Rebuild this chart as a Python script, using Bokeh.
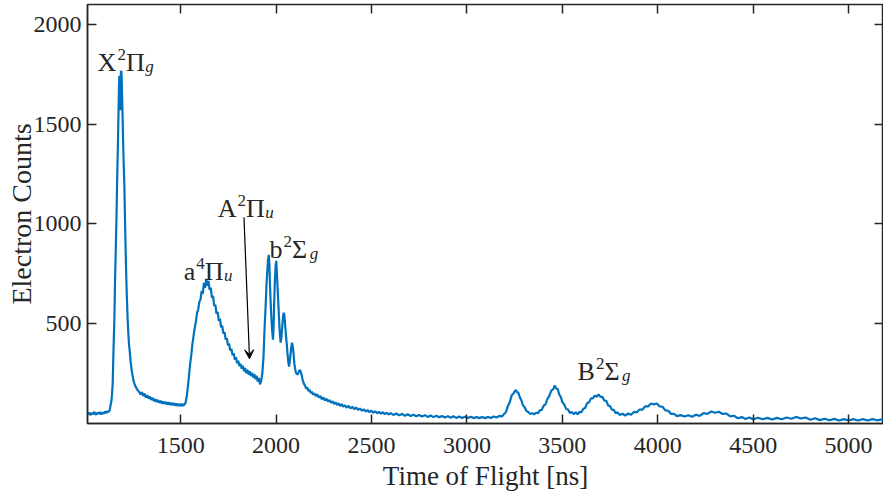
from bokeh.plotting import figure
from bokeh.models import (Range1d, FixedTicker, LinearAxis, Label, Arrow, VeeHead,
                          CustomJSTickFormatter)
from bokeh.embed import file_html
from bokeh.resources import INLINE

# ---------------- data ----------------
tof_ns = [
    1013, 1020, 1027, 1034, 1041, 1048, 1055, 1062, 1069, 1076, 1083, 1090, 1097, 1104, 1111, 1118, 1124, 1129,
    1133, 1137, 1140, 1144, 1148, 1153, 1156, 1160, 1164, 1167, 1171, 1174, 1177, 1179, 1181, 1183, 1185, 1187,
    1189, 1191, 1193, 1196, 1199, 1202, 1205, 1208, 1212, 1215, 1218, 1222, 1226, 1230, 1233, 1238, 1243, 1248,
    1253, 1258, 1264, 1270, 1276, 1283,
    1290, 1297, 1304, 1311, 1318, 1325, 1332, 1339, 1346, 1353, 1360, 1367, 1374, 1381, 1388, 1395, 1402, 1409,
    1416, 1423, 1430, 1437, 1444, 1451, 1458, 1465, 1472, 1479, 1486, 1493, 1500, 1507, 1514, 1520,
    1526, 1532, 1538, 1544, 1550, 1556, 1562, 1568, 1574, 1580, 1586, 1592, 1598, 1604, 1610, 1616, 1622, 1628,
    1634, 1640, 1646, 1652, 1658, 1664, 1670, 1676, 1682, 1688, 1694, 1700, 1706, 1712, 1718, 1724, 1730, 1736,
    1742, 1748, 1754, 1760, 1766, 1772, 1778, 1784, 1790, 1796, 1802, 1808, 1814, 1820, 1826, 1832, 1838, 1844,
    1850, 1856, 1862, 1868, 1874, 1880, 1886, 1892, 1898, 1904, 1910, 1916, 1922,
    1928, 1934, 1940, 1946, 1950, 1954, 1958, 1962, 1965, 1968, 1972, 1976, 1980, 1984, 1987, 1990, 1994, 1998,
    2001, 2004, 2008, 2012, 2016, 2020, 2024, 2028, 2032, 2036, 2040, 2044, 2048, 2052, 2056, 2060, 2064, 2068,
    2072, 2076, 2080, 2084, 2088, 2092, 2096, 2100, 2104, 2108, 2112, 2116, 2120, 2125, 2130, 2135, 2140, 2146,
    2152, 2158, 2164, 2170, 2176, 2182, 2188, 2194, 2200,
    2208, 2216, 2224, 2232, 2240, 2248, 2256, 2264, 2272, 2280, 2288, 2296, 2304, 2312, 2320, 2328, 2336, 2344,
    2352, 2360, 2370, 2380, 2390, 2400, 2410, 2420, 2430, 2440, 2450, 2460, 2470, 2480, 2490, 2500, 2510, 2520,
    2530, 2540, 2550, 2560, 2570, 2580, 2590, 2600, 2615, 2630, 2645, 2660, 2675, 2690, 2705, 2720, 2735, 2750,
    2765, 2780, 2795, 2810, 2825, 2840, 2855, 2870, 2885, 2900, 2915, 2930, 2945, 2960, 2975, 2990, 3005, 3020,
    3035, 3050, 3065, 3080, 3095, 3110, 3125, 3140, 3155, 3170, 3185,
    3195, 3205, 3215, 3225, 3235, 3245, 3255, 3262, 3270, 3278, 3286, 3294, 3302, 3312, 3322, 3332, 3342, 3352,
    3362, 3372, 3382, 3392, 3402, 3412, 3422, 3432, 3442, 3452, 3460, 3468, 3476, 3484, 3492, 3500, 3510, 3520,
    3530, 3540, 3550, 3560, 3570, 3580, 3590, 3600, 3610, 3620, 3630, 3640, 3650, 3660, 3670, 3680, 3690, 3700,
    3710, 3720, 3730, 3740, 3750, 3760, 3770, 3780, 3790, 3800, 3815, 3830, 3845, 3860, 3875, 3890, 3905, 3920,
    3935, 3950, 3965, 3980, 3995, 4010, 4025, 4040, 4055, 4070, 4085, 4100, 4120, 4140, 4160, 4180, 4200, 4220,
    4240, 4260, 4280, 4300, 4320, 4340, 4360, 4380, 4400, 4420, 4440, 4460, 4480, 4500, 4525, 4550, 4575, 4600,
    4625, 4650, 4675, 4700, 4725, 4750, 4775, 4800, 4825, 4850, 4875, 4900, 4925, 4950, 4975, 5000, 5025, 5050,
    5075, 5100, 5125, 5150, 5175, 5190,
]

electron_counts = [
    45, 55, 42, 52, 47, 58, 44, 53, 49, 57, 46, 55, 50, 60, 52, 62, 58, 70,
    92, 110, 140, 200, 360, 530, 700, 865, 1040, 1200, 1380, 1532, 1690, 1743, 1660, 1570, 1640, 1755,
    1768, 1740, 1650, 1532, 1400, 1290, 1200, 1050, 865, 740, 640, 530, 450, 390, 365, 310, 270, 240,
    215, 200, 185, 175, 165, 158,
    146, 158, 138, 150, 130, 142, 125, 135, 118, 128, 112, 122, 108, 118, 104, 114, 100, 110,
    98, 108, 95, 106, 93, 104, 92, 102, 90, 100, 88, 99, 87, 98, 88, 96,
    105, 135, 185, 240, 300, 345, 400, 440, 480, 510, 555, 570, 610, 620, 665, 650, 705, 680,
    725, 690, 715, 670, 680, 630, 640, 590, 595, 550, 560, 515, 525, 482, 490, 450, 458, 420,
    428, 392, 400, 365, 375, 342, 352, 320, 332, 302, 315, 288, 300, 275, 290, 262, 278, 252,
    270, 245, 262, 238, 255, 230, 248, 222, 240, 210, 228, 196, 215,
    250, 330, 480, 600, 700, 760, 820, 845, 800, 700, 600, 520, 460, 420, 480, 600, 720, 790,
    815, 760, 680, 600, 520, 450, 405, 430, 480, 530, 555, 540, 490, 440, 400, 350, 310, 285,
    310, 350, 385, 405, 385, 345, 300, 275, 255, 250, 245, 250, 262, 268, 258, 240, 215, 200,
    190, 175, 180, 162, 170, 152, 160, 145, 152,
    138, 146, 130, 138, 122, 130, 115, 124, 110, 118, 104, 112, 98, 106, 93, 101, 88, 97,
    84, 92, 80, 88, 76, 84, 72, 80, 68, 75, 64, 71, 60, 67, 57, 64, 54, 61,
    51, 59, 49, 56, 47, 54, 45, 52, 43, 50, 41, 48, 39, 46, 38, 44, 36, 43,
    35, 42, 33, 40, 32, 39, 31, 38, 30, 37, 29, 36, 28, 35, 28, 34, 27, 34,
    27, 33, 27, 33, 27, 33, 28, 35, 30, 38, 36,
    48, 58, 88, 108, 142, 152, 168, 158, 153, 130, 115, 90, 83, 63, 58, 47, 52, 46,
    54, 51, 66, 68, 89, 96, 124, 138, 165, 171, 190, 176, 172, 145, 134, 107, 96, 73,
    70, 53, 58, 46, 56, 46, 59, 56, 74, 78, 102, 106, 126, 126, 140, 134, 146, 133,
    134, 115, 114, 91, 88, 69, 68, 51, 56, 43, 49, 40, 50, 44, 58, 56, 70, 70,
    86, 86, 100, 96, 100, 86, 84, 66, 64, 48, 49, 37, 42, 35, 41, 34, 44, 38,
    52, 48, 60, 54, 59, 48, 50, 36, 39, 26, 32, 23, 30, 21, 29, 21, 28, 20,
    28, 21, 30, 24, 33, 25, 30, 19, 26, 17, 24, 16, 23, 15, 22, 15, 22, 15,
    22, 15, 22, 16, 21, 17,
]

x_ticks = [1500, 2000, 2500, 3000, 3500, 4000, 4500, 5000]
y_ticks = [500, 1000, 1500, 2000]

# state labels: (base letter, superscript, greek letter, subscript, x [ns], y [counts])
state_labels = [
    ("X", "2", "\u03a0", "g", 1065, 1808),
    ("a", "4", "\u03a0", "u", 1516, 764),
    ("A", "2", "\u03a0", "u", 1694, 1080),
    ("b", "2", "\u03a3", "g", 1966, 874),
    ("B", "2", "\u03a3", "g", 3580, 263),
]
arrow_start = (1832, 1033)
arrow_end = (1861, 324)

# ---------------- figure ----------------
FONT = "Liberation Serif"
INK = "#262626"
LINE_BLUE = "#0072BD"

p = figure(width=883, height=497, output_backend="svg", toolbar_location=None,
           x_range=Range1d(1012, 5183), y_range=Range1d(0, 2100),
           min_border_left=87, min_border_right=0, min_border_top=4, min_border_bottom=74)
p.background_fill_color = "white"
p.border_fill_color = "white"
p.outline_line_color = INK
p.outline_line_width = 1.5
p.xgrid.visible = False
p.ygrid.visible = False

def style_axis(ax, ticks, labels=True):
    ax.ticker = FixedTicker(ticks=ticks)
    ax.major_tick_in = 9
    ax.major_tick_out = 0
    ax.minor_tick_line_color = None
    ax.major_tick_line_color = INK
    ax.major_tick_line_width = 1.5
    ax.axis_line_color = INK
    ax.axis_line_width = 1.5
    ax.major_label_text_font = FONT
    ax.major_label_text_font_size = "24px"
    ax.major_label_text_color = INK
    ax.axis_label_text_font = FONT
    ax.axis_label_text_font_style = "normal"
    ax.axis_label_text_color = INK
    if not labels:
        ax.formatter = CustomJSTickFormatter(code="return ''")
        ax.major_label_text_font_size = "0px"
        ax.major_label_standoff = 0
        ax.axis_line_color = None

xa = p.xaxis[0]
style_axis(xa, x_ticks)
xa.axis_label = "Time of Flight [ns]"
xa.axis_label_text_font_size = "27px"
xa.major_label_standoff = 14
xa.axis_label_standoff = 5

ya = p.yaxis[0]
style_axis(ya, y_ticks)
ya.axis_label = "Electron Counts"
ya.axis_label_text_font_size = "28px"
ya.major_label_standoff = 6
ya.axis_label_standoff = -6

top = LinearAxis()
style_axis(top, x_ticks, labels=False)
p.add_layout(top, "above")
right = LinearAxis()
style_axis(right, y_ticks, labels=False)
p.add_layout(right, "right")

p.line(tof_ns, electron_counts, line_color=LINE_BLUE, line_width=2.2)

# ---------------- annotations ----------------
WIDTH_EM = {"X": 0.722, "a": 0.444, "A": 0.722, "b": 0.5, "B": 0.667,
            "\u03a0": 0.74, "\u03a3": 0.68}
BIG, SMALL = 26, 17

def add_state(base, sup, greek, sub, x, y):
    off = 0.0
    def lab(text, dx, dy, size, style="normal"):
        p.add_layout(Label(x=x, y=y, x_offset=dx, y_offset=dy, text=text,
                           text_font=FONT, text_font_size=f"{size}px",
                           text_font_style=style, text_color=INK,
                           text_baseline="alphabetic", text_align="left"))
    lab(base, off, 0, BIG)
    off += WIDTH_EM[base] * BIG + 1
    lab(sup, off, 8, SMALL)
    off += 0.5 * SMALL
    lab(greek, off, 0, BIG)
    off += WIDTH_EM[greek] * BIG
    lab(sub, off, -4, SMALL, "italic")

for b, s, g, sb, x, y in state_labels:
    add_state(b, s, g, sb, x, y)

p.add_layout(Arrow(end=VeeHead(size=9, line_color="black", fill_color="black", line_width=1),
                   x_start=arrow_start[0], y_start=arrow_start[1],
                   x_end=arrow_end[0], y_end=arrow_end[1],
                   line_color="black", line_width=1.2))

open("out.html", "w").write(file_html(p, INLINE))
